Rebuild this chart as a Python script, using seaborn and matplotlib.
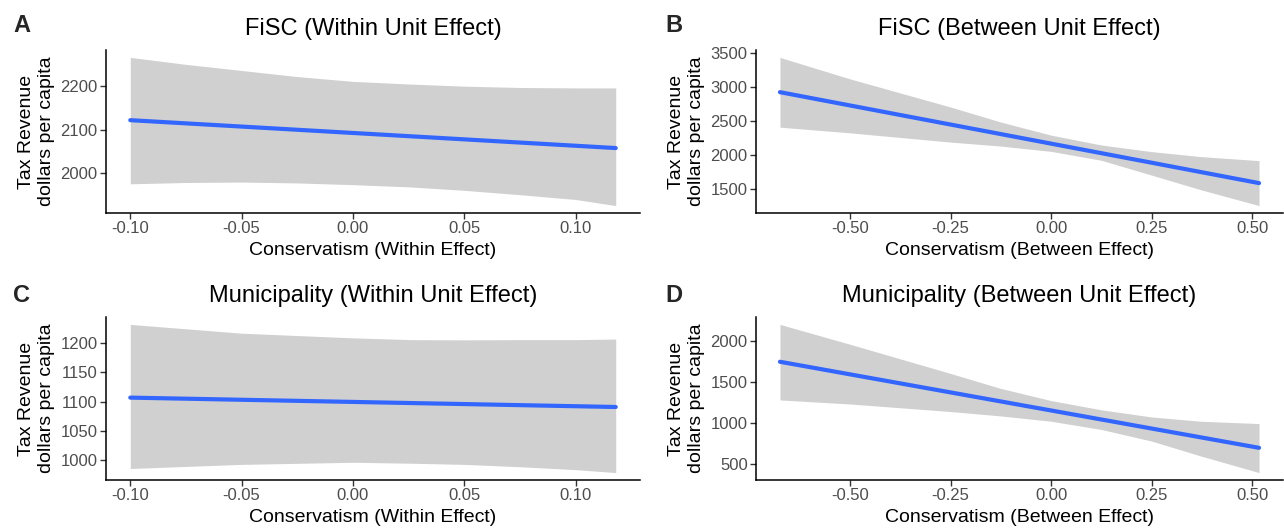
import numpy as np
import pandas as pd
import matplotlib
matplotlib.use("Agg")
import matplotlib.pyplot as plt
import seaborn as sns

# ---------------- data ----------------
# Panel A: FiSC within
a_x = [-0.100, -0.075, -0.050, -0.025, 0.000, 0.025, 0.050, 0.075, 0.100, 0.118]
a_hi = [2266, 2250, 2236, 2222, 2211, 2205, 2200, 2197, 2196, 2196]
a_lo = [1976, 1979, 1980, 1978, 1974, 1969, 1961, 1951, 1940, 1926]
a_line_x = [-0.100, 0.118]
a_line_y = [2122, 2058]

# Panel B: FiSC between
b_x = [-0.674, -0.500, -0.250, -0.126, 0.000, 0.125, 0.250, 0.372, 0.517]
b_hi = [3432, 3117, 2704, 2485, 2291, 2146, 2049, 1976, 1917]
b_lo = [2408, 2325, 2189, 2131, 2053, 1922, 1704, 1490, 1257]
b_line_x = [-0.674, 0.517]
b_line_y = [2922, 1587]

# Panel C: Municipality within
c_x = [-0.100, -0.050, 0.000, 0.026, 0.050, 0.075, 0.100, 0.118]
c_hi = [1232, 1217, 1209, 1206, 1205.6, 1206, 1206, 1207]
c_lo = [986, 993, 996.6, 995, 993, 989, 984, 979]
c_line_x = [-0.100, 0.118]
c_line_y = [1107, 1091]

# Panel D: Municipality between
d_x = [-0.674, -0.500, -0.250, -0.126, 0.000, 0.125, 0.250, 0.372, 0.517]
d_hi = [2201, 1960, 1605, 1424, 1275, 1163, 1076, 1024, 996]
d_lo = [1283, 1234, 1142, 1089, 1024, 924, 783, 602, 400]
d_line_x = [-0.674, 0.517]
d_line_y = [1747, 701]

titles = ["FiSC (Within Unit Effect)", "FiSC (Between Unit Effect)",
          "Municipality (Within Unit Effect)", "Municipality (Between Unit Effect)"]
letters = ["A", "B", "C", "D"]
xlabels = ["Conservatism (Within Effect)", "Conservatism (Between Effect)",
           "Conservatism (Within Effect)", "Conservatism (Between Effect)"]
ylabel = "Tax Revenue\ndollars per capita"
within_xticks = [-0.10, -0.05, 0.00, 0.05, 0.10]
between_xticks = [-0.50, -0.25, 0.00, 0.25, 0.50]
yticks = [[2000, 2100, 2200],
          [1500, 2000, 2500, 3000, 3500],
          [1000, 1050, 1100, 1150, 1200],
          [500, 1000, 1500, 2000]]

# ---------------- style ----------------
sns.set_theme(style="ticks")
plt.rcParams["font.family"] = ["Liberation Sans", "DejaVu Sans"]
plt.rcParams["axes.unicode_minus"] = False

fig = plt.figure(figsize=(12.84, 5.29), dpi=100)
W, H = 1284, 529
boxes = [(106, 640, 50, 213), (756, 1283, 50, 213),
         (106, 640, 317, 480), (756, 1283, 317, 480)]
letter_pos = [(13, 25), (665, 25), (13, 295), (665, 295)]

panels = [(a_x, a_lo, a_hi, a_line_x, a_line_y),
          (b_x, b_lo, b_hi, b_line_x, b_line_y),
          (c_x, c_lo, c_hi, c_line_x, c_line_y),
          (d_x, d_lo, d_hi, d_line_x, d_line_y)]

for i, (px, plo, phi, lx, ly) in enumerate(panels):
    l, r, t, b = boxes[i]
    ax = fig.add_axes([l / W, 1 - b / H, (r - l) / W, (b - t) / H])
    rib = pd.DataFrame({"x": px, "lo": plo, "hi": phi})
    ax.fill_between(rib["x"], rib["lo"], rib["hi"], color="#D0D0D0", lw=0)
    ln = pd.DataFrame({"x": lx, "y": ly})
    sns.lineplot(data=ln, x="x", y="y", ax=ax, color="#3366FF", lw=3.0)
    ax.margins(x=0.05, y=0.05)
    xt = within_xticks if i % 2 == 0 else between_xticks
    ax.set_xticks(xt)
    ax.set_xticklabels([f"{v:.2f}" for v in xt])
    ax.set_yticks(yticks[i])
    ax.set_yticklabels([str(v) for v in yticks[i]])
    ax.tick_params(axis="both", labelsize=12, labelcolor="#4D4D4D", color="#333333",
                   length=4, width=1.0, pad=2)
    for s in ["left", "bottom"]:
        ax.spines[s].set_linewidth(1.1)
        ax.spines[s].set_color("black")
    sns.despine(ax=ax)
    ax.set_xlabel(xlabels[i], fontsize=14, labelpad=4, color="black")
    ax.set_ylabel(ylabel, fontsize=14, labelpad=4, color="black")
    ax.set_title(titles[i], fontsize=17, pad=11, color="black")
    fig.text(letter_pos[i][0] / W, 1 - letter_pos[i][1] / H, letters[i],
             fontsize=17, fontweight="bold", ha="left", va="center")

fig.savefig("out.png", dpi=100)
